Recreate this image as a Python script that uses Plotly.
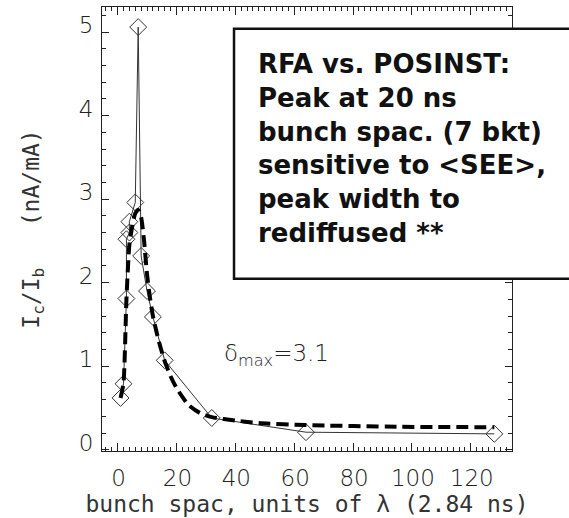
import plotly.graph_objects as go

# Measured RFA collector current vs bunch spacing (units of RF bucket, 2.84 ns)
meas_spacing = [1, 2, 3, 3, 4, 4, 6, 7, 8, 10, 12, 16, 32, 64, 128]
meas_current = [0.62, 0.79, 1.81, 2.52, 2.60, 2.73, 2.96, 5.06, 2.32, 1.90, 1.59, 1.07, 0.38, 0.21, 0.19]

# POSINST simulation curve
sim_spacing = [1, 2, 3, 4, 5, 6, 7, 8, 9, 10, 11, 12, 14, 16, 18, 20, 24, 28, 32, 40, 48, 64, 96, 128]
sim_current = [0.62, 0.80, 1.80, 2.45, 2.68, 2.83, 2.87, 2.78, 2.50, 2.10, 1.82, 1.60, 1.30, 1.06,
               0.88, 0.74, 0.54, 0.44, 0.39, 0.35, 0.32, 0.295, 0.275, 0.27]

x_ticks = [0, 20, 40, 60, 80, 100, 120]
y_ticks = [0, 1, 2, 3, 4, 5]

note_lines = [
    "RFA vs. POSINST:",
    "Peak at 20 ns",
    "bunch spac. (7 bkt)",
    "sensitive to &lt;SEE&gt;,",
    "peak width to",
    "rediffused **",
]

thin_font = dict(family="DejaVu Sans", size=23, color="#222", weight=200)
mono_font = dict(family="DejaVu Sans Mono", size=23, color="#333")

fig = go.Figure()

fig.add_trace(go.Scatter(
    x=meas_spacing, y=meas_current, mode="lines+markers",
    line=dict(color="#333", width=1),
    marker=dict(symbol="diamond-open", size=13, color="#333", line=dict(width=1)),
    showlegend=False,
))
fig.add_trace(go.Scatter(
    x=sim_spacing, y=sim_current, mode="lines",
    line=dict(color="black", width=4, dash="12px,6px", shape="spline", smoothing=0.6),
    showlegend=False,
))

axis_common = dict(
    showline=True, linecolor="#222", linewidth=1, mirror="allticks",
    ticks="inside", tickcolor="#222", tickwidth=1,
    showgrid=False, zeroline=False, tickfont=thin_font,
)

fig.update_xaxes(
    range=[-5.3, 134], tickvals=x_ticks, ticklen=8,
    minor=dict(dtick=2, tick0=0, ticks="inside", ticklen=4, tickcolor="#222"),
    ticklabelshift=1, ticklabelstandoff=6,
    title=dict(text="bunch spac, units of λ (2.84 ns)", font=mono_font, standoff=5),
    **axis_common,
)
fig.update_yaxes(
    range=[-0.015, 5.3], tickvals=y_ticks, ticklen=7,
    minor=dict(dtick=0.2, tick0=0, ticks="inside", ticklen=4, tickcolor="#222"),
    ticklabelshift=-7, ticklabelstandoff=3,
    title=dict(text="I<sub>c</sub>/I<sub>b</sub>&nbsp;&nbsp;&nbsp;(nA/mA)", font=mono_font, standoff=32),
    **axis_common,
)

# Boxed comment
fig.add_shape(
    type="rect", xref="paper", yref="paper",
    x0=0.322, x1=1.25, y0=0.388, y1=0.951,
    line=dict(color="#111", width=2.5), fillcolor="white", layer="above",
)
fig.add_annotation(
    xref="paper", yref="paper", x=0.376, y=0.681,
    xanchor="left", yanchor="middle", align="left", showarrow=False,
    text="<br>".join(note_lines),
    font=dict(family="DejaVu Sans", size=26, color="#111", weight="bold"),
)
fig.add_annotation(
    x=54, y=1.14, xanchor="center", yanchor="middle", showarrow=False,
    text="δ<sub>max</sub>=3.1", font=thin_font,
)

fig.update_layout(
    width=569, height=518,
    margin=dict(l=102, r=57, t=6, b=66),
    paper_bgcolor="white", plot_bgcolor="white",
)

fig.write_html("out.html")
